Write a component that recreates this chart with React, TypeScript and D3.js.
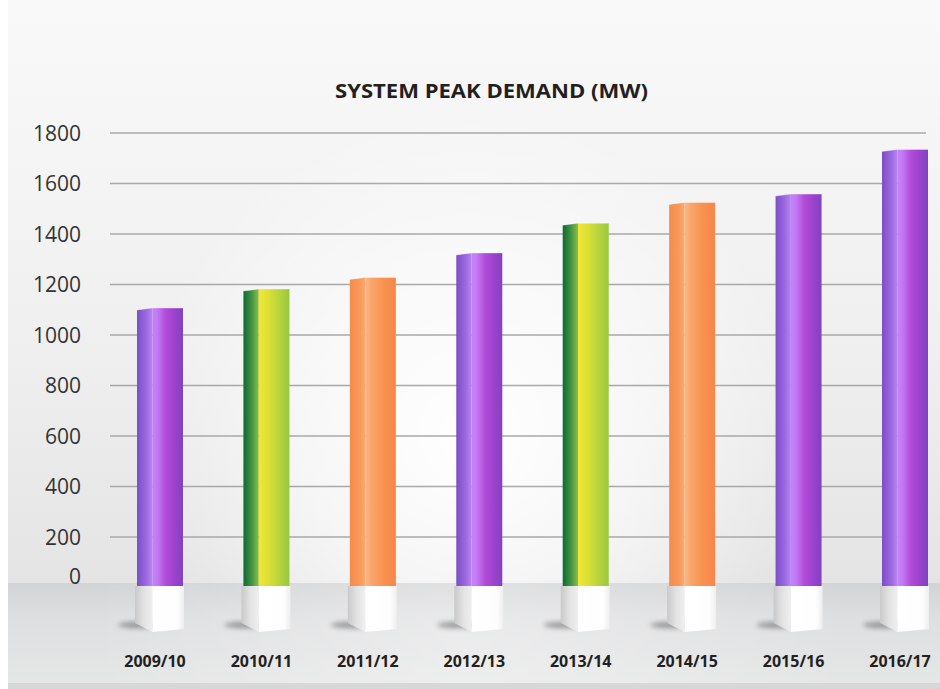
import React from "react";
import * as d3 from "d3";

const categories = ["2009/10", "2010/11", "2011/12", "2012/13", "2013/14", "2014/15", "2015/16", "2016/17"];
const peakDemand = [1107, 1182, 1228, 1325, 1443, 1525, 1558, 1735];
const yTicks = [0, 200, 400, 600, 800, 1000, 1200, 1400, 1600, 1800];
const title = "SYSTEM PEAK DEMAND (MW)";

// style: colour scheme per bar (kept apart from the data)
const barScheme = ["purple", "green", "orange", "purple", "green", "orange", "purple", "purple"];

const W = 940;
const H = 689;

const gradients: Record<string, { left: [number, string][]; right: [number, string][] }> = {
  purple: {
    left: [[0, "#7b4fc6"], [0.6, "#9c68e0"], [1, "#b985f3"]],
    right: [[0, "#c583f8"], [0.15, "#c27bf6"], [0.45, "#b24ad8"], [0.75, "#9a42cc"], [1, "#7e44bc"]],
  },
  green: {
    left: [[0, "#0d6a33"], [0.5, "#3f9142"], [1, "#8cbd49"]],
    right: [[0, "#f2e732"], [0.35, "#d8df36"], [0.7, "#b4d33d"], [1, "#98c73e"]],
  },
  orange: {
    left: [[0, "#f78a4a"], [0.7, "#f89b5d"], [1, "#f9ab72"]],
    right: [[0, "#fab888"], [0.2, "#f9a66a"], [0.6, "#f8924f"], [1, "#f7864a"]],
  },
};

export default function App() {
  const y = d3.scaleLinear().domain([0, 1800]).range([587.5, 133]);
  const x = d3.scalePoint<string>().domain(categories).range([160, 905]);
  const barW = 46;
  const floorTop = 583;

  return (
    <svg
      width={W}
      height={H}
      style={{ position: "fixed", left: 0, top: 0, display: "block" }}
      xmlns="http://www.w3.org/2000/svg"
    >
      <defs>
        <linearGradient id="bgLin" x1="0" y1="0" x2="0" y2="1">
          <stop offset="0" stopColor="#f9f9f9" />
          <stop offset="0.6" stopColor="#efefef" />
          <stop offset="1" stopColor="#e4e4e4" />
        </linearGradient>
        <radialGradient id="bgGlow" gradientUnits="userSpaceOnUse" cx="470" cy="440" r="330">
          <stop offset="0" stopColor="#ffffff" stopOpacity="1" />
          <stop offset="0.5" stopColor="#ffffff" stopOpacity="0.6" />
          <stop offset="1" stopColor="#ffffff" stopOpacity="0" />
        </radialGradient>
        <linearGradient id="floor" x1="0" y1="0" x2="0" y2="1">
          <stop offset="0" stopColor="#d2d3d4" />
          <stop offset="0.35" stopColor="#dedfe0" />
          <stop offset="1" stopColor="#e5e6e6" />
        </linearGradient>
        <radialGradient id="floorGlow" gradientUnits="userSpaceOnUse" cx="470" cy="640" r="380">
          <stop offset="0" stopColor="#ffffff" stopOpacity="0.35" />
          <stop offset="1" stopColor="#ffffff" stopOpacity="0" />
        </radialGradient>
        <linearGradient id="pedLeft" x1="0" y1="0" x2="1" y2="0">
          <stop offset="0" stopColor="#c9c9c9" />
          <stop offset="0.5" stopColor="#e2e2e2" />
          <stop offset="1" stopColor="#efefef" />
        </linearGradient>
        <linearGradient id="pedRight" x1="0" y1="0" x2="1" y2="0">
          <stop offset="0" stopColor="#ffffff" />
          <stop offset="0.8" stopColor="#fdfdfd" />
          <stop offset="1" stopColor="#eeeeee" />
        </linearGradient>
        <filter id="shadowBlur" x="-50%" y="-200%" width="200%" height="500%">
          <feGaussianBlur stdDeviation="2.5" />
        </filter>
        {Object.entries(gradients).map(([k, g]) => (
          <React.Fragment key={k}>
            <linearGradient id={`${k}L`} x1="0" y1="0" x2="1" y2="0">
              {g.left.map(([o, c], i) => (
                <stop key={i} offset={o} stopColor={c} />
              ))}
            </linearGradient>
            <linearGradient id={`${k}R`} x1="0" y1="0" x2="1" y2="0">
              {g.right.map(([o, c], i) => (
                <stop key={i} offset={o} stopColor={c} />
              ))}
            </linearGradient>
          </React.Fragment>
        ))}
      </defs>

      {/* page background */}
      <rect x={0} y={0} width={W} height={H} fill="#ffffff" />
      <rect x={8} y={0} width={W - 8} height={floorTop} fill="url(#bgLin)" />
      <rect x={8} y={0} width={W - 8} height={floorTop} fill="url(#bgGlow)" />
      <rect x={8} y={floorTop} width={W - 8} height={683 - floorTop} fill="url(#floor)" />
      <rect x={8} y={floorTop} width={W - 8} height={683 - floorTop} fill="url(#floorGlow)" />
      <rect x={8} y={683} width={W - 8} height={H - 683} fill="#d7d7d7" />

      {/* title */}
      <text
        x={491.5}
        y={98}
        textAnchor="middle"
        fontFamily="'Open Sans', sans-serif"
        fontWeight={700}
        fontSize={20}
        fill="#231f20"
        textLength={313}
        lengthAdjust="spacingAndGlyphs"
      >
        {title}
      </text>

      {/* gridlines (not at zero) */}
      {yTicks
        .filter((t) => t > 0)
        .map((t) => (
          <line key={t} x1={110} x2={926} y1={y(t)} y2={y(t)} stroke="#a9a9a9" strokeWidth={1.6} />
        ))}

      {/* y tick labels */}
      {yTicks.map((t) => (
        <text
          key={t}
          x={81}
          y={t === 0 ? 576 : y(t)}
          dy="0.36em"
          textAnchor="end"
          fontFamily="'Open Sans', sans-serif"
          fontSize={21}
          fill="#333333"
        >
          {t}
        </text>
      ))}

      {/* bars */}
      {categories.map((c, i) => {
        const cx = x(c) as number;
        const x0 = cx - barW / 2;
        const x1 = cx + barW / 2;
        const xd = x0 + barW / 3;
        const top = y(peakDemand[i]);
        const base = y(0) - 1.5;
        const scheme = barScheme[i];
        const px0 = x0 - 2;
        const px1 = x1 + 1;
        const pd = xd;
        const pTop = base;
        return (
          <g key={c}>
            {/* shadow */}
            <ellipse cx={px0 + 3} cy={625} rx={20} ry={3.2} fill="#5a5a5a" opacity={0.55} filter="url(#shadowBlur)" />
            {/* pedestal */}
            <path d={`M${px0},${pTop} L${pd},${pTop} L${pd},${pTop + 46} L${px0},${pTop + 37} Z`} fill="url(#pedLeft)" />
            <path d={`M${pd},${pTop} L${px1},${pTop} L${px1},${pTop + 43} L${pd},${pTop + 46} Z`} fill="url(#pedRight)" />
            {/* bar faces */}
            <path d={`M${x0},${top + 2} L${xd},${top} L${xd},${base} L${x0},${base} Z`} fill={`url(#${scheme}L)`} />
            <path d={`M${xd},${top} L${x1},${top} L${x1},${base} L${xd},${base} Z`} fill={`url(#${scheme}R)`} />
            <path d={`M${x0},${top + 2} L${xd},${top} L${x1},${top}`} fill="none" stroke="#ffffff" strokeOpacity={0.35} strokeWidth={1} />
          </g>
        );
      })}

      {/* x labels */}
      {categories.map((c) => (
        <text
          key={c}
          x={(x(c) as number) - 5}
          y={661}
          dy="0.36em"
          textAnchor="middle"
          fontFamily="'Open Sans', sans-serif"
          fontWeight={700}
          fontSize={16}
          fill="#231f20"
        >
          {c}
        </text>
      ))}
    </svg>
  );
}
